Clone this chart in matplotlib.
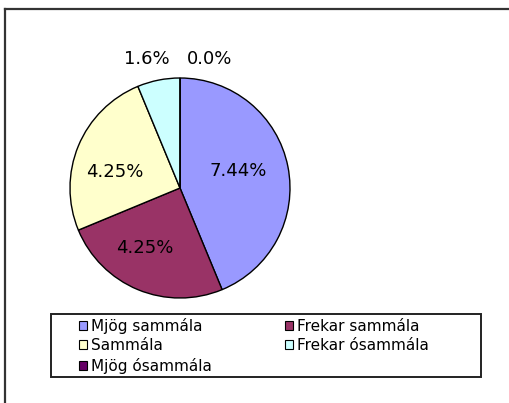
import numpy as np
import matplotlib
matplotlib.use("Agg")
import matplotlib.pyplot as plt
from matplotlib.patches import Patch, Rectangle
from matplotlib.lines import Line2D

categories = ["Mjög sammála", "Frekar sammála", "Sammála", "Frekar ósammála", "Mjög ósammála"]
values = [7, 4, 4, 1, 0]
value_labels = ["7.44%", "4.25%", "4.25%", "1.6%", "0.0%"]
colors = ["#9999FF", "#993366", "#FFFFCC", "#CCFFFF", "#660066"]

plt.rcParams['font.family'] = ['DejaVu Sans']

W, H = 510, 403
fig = plt.figure(figsize=(W / 100, H / 100), dpi=100)

# outer frame (top and left edges visible)
fig.add_artist(Line2D([5 / W, 1.0], [1 - 8.5 / H, 1 - 8.5 / H], transform=fig.transFigure,
                      color="#333333", lw=1.6))
fig.add_artist(Line2D([5 / W, 5 / W], [1 - 8.5 / H, 0.0], transform=fig.transFigure,
                      color="#333333", lw=1.6))

cx, cy, r = 180, 188, 110
ax = fig.add_axes([(cx - r) / W, (H - cy - r) / H, 2 * r / W, 2 * r / H])
wedges, _ = ax.pie(values, colors=colors, startangle=90, counterclock=False,
                   radius=1.0, wedgeprops=dict(edgecolor="black", linewidth=1.0))
ax.set_xlim(-1, 1)
ax.set_ylim(-1, 1)
ax.set_aspect("equal")
ax.axis("off")

total = sum(values)
# small layout nudges (radius units) for label placement
nudge = {0: (-0.01, 0.05), 1: (-0.09, 0.01), 2: (-0.04, -0.08), 3: (-0.07, 0.0), 4: (0.27, 0.0)}
for i, (w, lab) in enumerate(zip(wedges, value_labels)):
    mid = np.deg2rad((w.theta1 + w.theta2) / 2)
    frac = values[i] / total
    dx, dy = nudge.get(i, (0, 0))
    if frac > 0.1:
        d = 0.55 if frac > 0.3 else 0.6
        x, y = d * np.cos(mid) + dx, d * np.sin(mid) + dy
    else:
        x, y = 1.2 * np.cos(mid) + dx, 1.17
    ax.text(x, y, lab, ha="center", va="center", fontsize=13, color="black", clip_on=False)

# legend
handles = [Patch(facecolor=c, edgecolor="black", linewidth=0.8) for c in colors]
order = [0, 2, 4, 1, 3]
leg = fig.legend([handles[k] for k in order], [categories[k] for k in order], ncol=2,
                 loc="upper left", bbox_to_anchor=(71 / W, 1 - 310 / H), frameon=False,
                 borderpad=0, handlelength=0.55, handleheight=0.55, handletextpad=0.25,
                 columnspacing=4.8, labelspacing=0.3, fontsize=11)

fig.add_artist(Rectangle((51 / W, 1 - 377 / H), 430 / W, 63 / H, transform=fig.transFigure,
                         facecolor="none", edgecolor="#222222", lw=1.4))

fig.savefig("out.png", dpi=100)
